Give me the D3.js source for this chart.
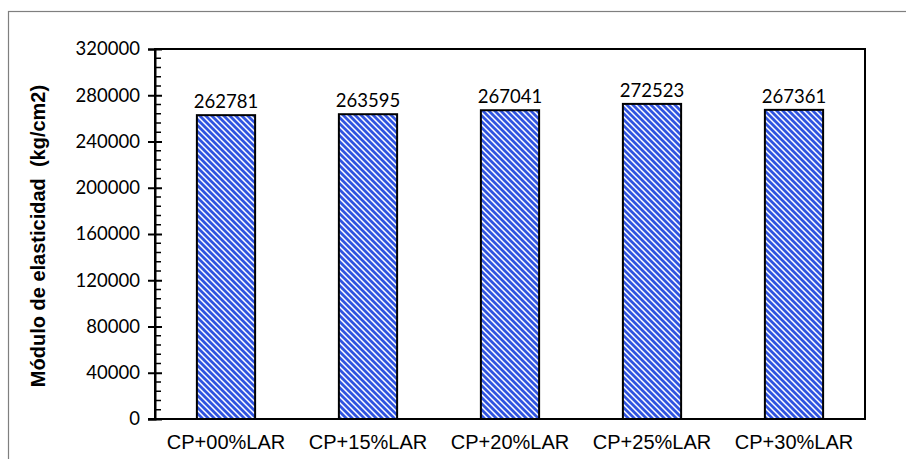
<!DOCTYPE html>
<html><head><meta charset="utf-8">
<script src="https://cdn.jsdelivr.net/npm/d3@7"></script>
<style>body{margin:0;background:#fff}</style>
</head><body>
<svg id="c" width="906" height="459"></svg>
<script>
const categories = ["CP+00%LAR","CP+15%LAR","CP+20%LAR","CP+25%LAR","CP+30%LAR"];
const values = [262781, 263595, 267041, 272523, 267361];
const yTicks = [0,40000,80000,120000,160000,200000,240000,280000,320000];
const yTitle = "Módulo de elasticidad  (kg/cm2)";

const svg = d3.select("#c");
const L = 155, R = 865, T = 49, B = 419;

// outer chart border
svg.append("rect").attr("x",8.5).attr("y",11.5).attr("width",1000).attr("height",1000)
  .attr("fill","none").attr("stroke","#7f7f7f").attr("stroke-width",1.2);

const defs = svg.append("defs");
const pat = defs.append("pattern").attr("id","hatch").attr("patternUnits","userSpaceOnUse")
  .attr("width",6).attr("height",6);
pat.append("rect").attr("width",6).attr("height",6).attr("fill","#ffffff");
pat.append("path").attr("d","M-1,-1 L7,7 M-4,2 L4,10 M2,-4 L10,4")
  .attr("stroke","#3054e0").attr("stroke-width",2.8);

const x = d3.scaleBand().domain(categories).range([L,R]).paddingInner(0.59).paddingOuter(0.295);
const y = d3.scaleLinear().domain([0,320000]).range([B,T]);

// plot area border
svg.append("rect").attr("x",L).attr("y",T).attr("width",R-L).attr("height",B-T)
  .attr("fill","none").attr("stroke","#000").attr("stroke-width",2);

// bars
svg.selectAll("rect.bar").data(values).enter().append("rect").attr("class","bar")
  .attr("x",(d,i)=>x(categories[i])).attr("width",x.bandwidth())
  .attr("y",d=>y(d)).attr("height",d=>B-y(d))
  .attr("fill","url(#hatch)").attr("stroke","#000").attr("stroke-width",2);

// value labels
svg.selectAll("text.val").data(values).enter().append("text").attr("class","val")
  .attr("x",(d,i)=>x(categories[i])+x.bandwidth()/2).attr("y",d=>y(d)-7)
  .attr("text-anchor","middle").attr("font-family","Lato, 'Open Sans', sans-serif")
  .attr("font-size",18.5).attr("fill","#000").text(d=>d);

// y axis
const yAxis = d3.axisLeft(y).tickValues(yTicks).tickSize(7).tickPadding(8).tickFormat(d=>d);
const ga = svg.append("g").attr("transform",`translate(${L},0)`).call(yAxis);
ga.select(".domain").attr("stroke","#000").attr("stroke-width",2);
ga.selectAll(".tick line").attr("stroke","#000").attr("stroke-width",2).attr("x2",-7).attr("x1",7);
ga.selectAll(".tick text").attr("font-family","Lato, 'Open Sans', sans-serif").attr("font-size",18.5).attr("fill","#000");
// minor ticks
const minor = d3.range(0,320001,8000).filter(v=>v%40000!==0);
svg.append("g").selectAll("line").data(minor).enter().append("line")
  .attr("x1",L).attr("x2",L+6).attr("y1",d=>y(d)).attr("y2",d=>y(d))
  .attr("stroke","#000").attr("stroke-width",1.5);

// x axis
const xAxis = d3.axisBottom(x).tickSize(0).tickPadding(16);
const gx = svg.append("g").attr("transform",`translate(0,${B})`).call(xAxis);
gx.select(".domain").remove();
gx.selectAll(".tick text").attr("font-family","'Liberation Sans', Arial, sans-serif").attr("font-size",20).attr("fill","#000");
svg.append("line").attr("x1",L-7).attr("x2",R).attr("y1",B).attr("y2",B).attr("stroke","#000").attr("stroke-width",2);

// y title
svg.append("text").attr("transform",`translate(45,236) rotate(-90)`)
  .attr("text-anchor","middle").attr("font-family","'Liberation Sans', Arial, sans-serif")
  .attr("font-weight","bold").attr("font-size",20).attr("fill","#000").attr("xml:space","preserve")
  .text(yTitle);
</script>
</body></html>
